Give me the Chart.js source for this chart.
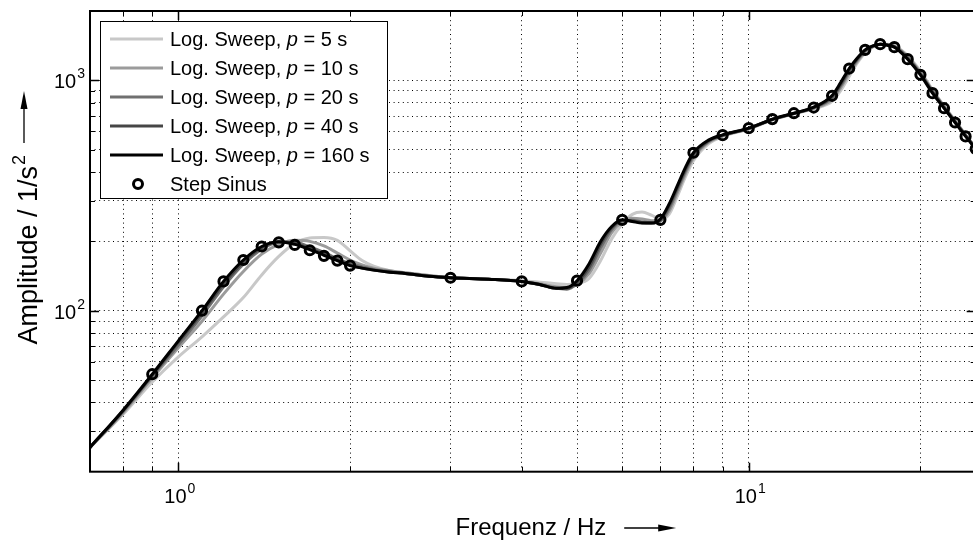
<!DOCTYPE html>
<html>
<head>
<meta charset="utf-8">
<script src="https://cdn.jsdelivr.net/npm/chart.js@4.4.1/dist/chart.umd.min.js"></script>
<style>
  html, body { margin: 0; padding: 0; background: #fff; overflow: hidden; }
  #wrap { width: 990px; height: 542px; }
</style>
</head>
<body>
<div id="wrap"><canvas id="ampChart" width="990" height="542"></canvas></div>
<script>
// frequency grid of the sweep curves (Hz)
const sweepFreq = [0.7, 0.8, 0.9, 1.0, 1.1, 1.2, 1.3, 1.4, 1.5, 1.6, 1.7, 1.8, 1.9, 2.0, 2.1, 2.2, 2.35, 2.5, 2.75, 3.0,
  3.5, 4.0, 4.3, 4.6, 4.8, 5.0, 5.25, 5.5, 5.75, 6.0, 6.25, 6.5, 6.75, 7.0, 7.25, 7.5, 7.75, 8.0, 8.5, 9,
  10, 11, 12, 13, 14, 14.5, 15, 15.5, 16, 16.5, 17, 17.5, 18, 18.5, 19, 20, 21, 22, 23, 24, 25];

// amplitude (1/s^2) per sweep period
const sweepP5 = [25.5, 35.5, 49, 63, 77, 94, 114, 143, 172, 196, 207, 208, 202, 182, 165, 156, 149, 146, 142, 139,
  137, 135, 133, 131, 130, 131, 138, 165, 205, 238, 262, 268, 260, 250, 262, 315, 383, 448, 530, 571,
  615, 673, 715, 752, 810, 905, 1040, 1190, 1315, 1395, 1430, 1435, 1415, 1355, 1280, 1095, 910, 775, 670, 580, 512];
const sweepP10 = [25.5, 36, 51, 69, 90, 118, 148, 176, 194, 202, 200, 191, 178, 166, 158, 153, 149, 146, 142, 139,
  137, 134, 131, 127, 126, 130, 145, 178, 218, 243, 252, 250, 246, 246, 270, 326, 395, 460, 538, 574,
  617, 675, 717, 757, 825, 930, 1070, 1210, 1330, 1400, 1433, 1430, 1408, 1345, 1265, 1083, 902, 770, 666, 578, 510];
const sweepP20 = [25.5, 36.5, 52, 71, 95, 127, 159, 185, 198, 198, 189, 179, 168, 160, 155, 151, 148, 145, 141, 139,
  137, 134, 130, 125, 124, 131, 150, 188, 225, 246, 247, 243, 241, 246, 278, 336, 405, 470, 543, 576,
  618, 676, 718, 760, 840, 950, 1095, 1228, 1342, 1405, 1435, 1426, 1402, 1336, 1255, 1073, 895, 766, 663, 576, 508];
const sweepP40 = [25.5, 36.8, 52.5, 73, 98, 131, 163, 188, 199, 196, 186, 176, 166, 158, 153, 150, 147, 145, 141, 139,
  137, 134, 130, 125, 125, 133, 155, 195, 229, 247, 245, 241, 240, 248, 285, 344, 413, 478, 547, 578,
  619, 677, 719, 763, 850, 965, 1110, 1240, 1350, 1408, 1436, 1423, 1398, 1328, 1245, 1065, 888, 762, 660, 574, 506];
const sweepP160 = [25.5, 37, 53, 74, 100, 134, 166, 190, 199, 194, 184, 174, 165, 157, 153, 150, 147, 145, 141, 139,
  137, 134, 130, 125, 126, 135, 160, 200, 232, 248, 244, 240, 240, 250, 290, 350, 420, 485, 550, 580,
  620, 678, 720, 765, 860, 980, 1125, 1250, 1356, 1410, 1436, 1420, 1393, 1320, 1236, 1057, 880, 757, 656, 571, 504];
const sweepPeriods = [5, 10, 20, 40, 160];

// step sine measurement
const stepFreq = [0.9, 1.1, 1.2, 1.3, 1.4, 1.5, 1.6, 1.7, 1.8, 1.9, 2.0, 3, 4, 5, 6, 7, 8, 9,
  10, 11, 12, 13, 14, 15, 16, 17, 18, 19, 20, 21, 22, 23, 24, 25];
const stepAmp = [53, 100, 134, 166, 190, 198, 193, 183, 173, 165, 157, 139, 134, 135, 248, 248, 485, 578,
  620, 679, 720, 762, 857, 1125, 1356, 1436, 1393, 1236, 1057, 880, 757, 656, 571, 504];

// axes
const xGrid = [0.8, 0.9, 1, 2, 3, 4, 5, 6, 7, 8, 9, 10, 20];
const yGrid = [30, 40, 50, 60, 70, 80, 90, 100, 200, 300, 400, 500, 600, 700, 800, 900, 1000];
const xTickValues = [1, 10];
const xTickExps = ["0", "1"];
const yTickValues = [100, 1000];
const yTickExps = ["2", "3"];

const FONT = '"Liberation Sans", Arial, Helvetica, sans-serif';
const sweepColors = ["#c8c8c8", "#9b9b9b", "#707070", "#464646", "#000000"];

function drawPow(ctx, base, exp, x, y, align) {
  ctx.font = `20px ${FONT}`;
  const wb = ctx.measureText(base).width;
  ctx.font = `14px ${FONT}`;
  const we = ctx.measureText(exp).width;
  const x0 = align === "center" ? x - (wb + we) / 2 : x - wb - we - 1;
  ctx.textAlign = "left";
  ctx.textBaseline = "alphabetic";
  ctx.font = `20px ${FONT}`;
  ctx.fillText(base, x0, y);
  ctx.font = `14px ${FONT}`;
  ctx.fillText(exp, x0 + wb + 1, y - 10);
}

function arrowHead(ctx, tipX, tipY, dx, dy) {
  // dx,dy: unit direction of the arrow
  const len = 18, half = 3.5;
  const bx = tipX - dx * len, by = tipY - dy * len;
  ctx.beginPath();
  ctx.moveTo(tipX, tipY);
  ctx.lineTo(bx - dy * half, by + dx * half);
  ctx.lineTo(bx + dy * half, by - dx * half);
  ctx.closePath();
  ctx.fill();
}

const axesDecor = {
  id: "axesDecor",
  afterDraw(chart) {
    const { ctx, chartArea: a, scales } = chart;
    const x = scales.x, y = scales.y;
    ctx.save();
    ctx.strokeStyle = "#000";
    ctx.fillStyle = "#000";

    // inward ticks on all four sides
    xGrid.forEach((v) => {
      const major = xTickValues.includes(v);
      const px = Math.round(x.getPixelForValue(v)) + 0.5;
      const len = major ? 9 : 5;
      ctx.lineWidth = major ? 1.5 : 1;
      ctx.beginPath();
      ctx.moveTo(px, a.bottom); ctx.lineTo(px, a.bottom - len);
      ctx.moveTo(px, a.top); ctx.lineTo(px, a.top + len);
      ctx.stroke();
    });
    yGrid.forEach((v) => {
      const major = yTickValues.includes(v);
      const py = Math.round(y.getPixelForValue(v)) + 0.5;
      const len = major ? 9 : 5;
      ctx.lineWidth = major ? 1.5 : 1;
      ctx.beginPath();
      ctx.moveTo(a.left, py); ctx.lineTo(a.left + len, py);
      ctx.moveTo(a.right, py); ctx.lineTo(a.right - len, py);
      ctx.stroke();
    });

    // frame
    ctx.lineWidth = 2;
    ctx.strokeRect(a.left, a.top, a.right - a.left, a.bottom - a.top);

    // tick labels
    xTickValues.forEach((v, i) => {
      drawPow(ctx, "10", xTickExps[i], x.getPixelForValue(v) + 1, a.bottom + 31, "center");
    });
    yTickValues.forEach((v, i) => {
      drawPow(ctx, "10", yTickExps[i], a.left - 5, y.getPixelForValue(v) + 8, "right");
    });

    // x title + arrow
    ctx.font = `24px ${FONT}`;
    ctx.textAlign = "center";
    ctx.textBaseline = "alphabetic";
    const xt = "Frequenz / Hz";
    const xc = (a.left + a.right) / 2 - 2;
    ctx.fillText(xt, xc, 535);
    const xw = ctx.measureText(xt).width;
    const ax0 = xc + xw / 2 + 18;
    ctx.lineWidth = 1.3;
    ctx.beginPath();
    ctx.moveTo(ax0, 528); ctx.lineTo(ax0 + 40, 528);
    ctx.stroke();
    arrowHead(ctx, ax0 + 52, 528, 1, 0);

    // y title + arrow (rotated, text ends just below the arrow)
    ctx.save();
    ctx.translate(37, 0);
    ctx.rotate(-Math.PI / 2);
    ctx.font = `27px ${FONT}`;
    const yt = "Amplitude / 1/s";
    const yw = ctx.measureText(yt).width;
    ctx.font = `18px ${FONT}`;
    const ew = ctx.measureText("2").width;
    const textEnd = -166;
    const start = textEnd - yw;
    ctx.textAlign = "left";
    ctx.font = `27px ${FONT}`;
    ctx.fillText(yt, start, 0);
    ctx.font = `18px ${FONT}`;
    ctx.fillText("2", textEnd + 1, -12);
    const ay0 = textEnd + ew + 13;
    ctx.lineWidth = 1.3;
    ctx.beginPath();
    ctx.moveTo(ay0, -13); ctx.lineTo(ay0 + 40, -13);
    ctx.stroke();
    arrowHead(ctx, ay0 + 52, -13, 1, 0);
    ctx.restore();

    // legend box
    const lx = 100, ly = 21, lw = 287, lh = 177;
    ctx.fillStyle = "#fff";
    ctx.fillRect(lx, ly, lw, lh);
    ctx.lineWidth = 1;
    ctx.strokeStyle = "#000";
    ctx.strokeRect(lx + 0.5, ly + 0.5, lw, lh);
    const rowY = (i) => ly + 18 + i * 29;
    chart.data.datasets.forEach((ds, i) => {
      const cy = rowY(i);
      if (ds.showLine === false) {
        ctx.beginPath();
        ctx.lineWidth = 3;
        ctx.strokeStyle = "#000";
        ctx.arc(138, cy, 4.5, 0, Math.PI * 2);
        ctx.stroke();
      } else {
        ctx.beginPath();
        ctx.lineWidth = 3;
        ctx.strokeStyle = ds.borderColor;
        ctx.moveTo(110, cy); ctx.lineTo(163, cy);
        ctx.stroke();
      }
      ctx.fillStyle = "#000";
      ctx.textAlign = "left";
      ctx.textBaseline = "middle";
      let tx = 170;
      const parts = ds.legendParts || [[ds.label, ""]];
      parts.forEach(([txt, style]) => {
        ctx.font = `${style}20px ${FONT}`;
        ctx.fillText(txt, tx, cy + 1);
        tx += ctx.measureText(txt).width;
      });
    });
    ctx.restore();
  },
};

const sweepSeries = [sweepP5, sweepP10, sweepP20, sweepP40, sweepP160];
const datasets = sweepSeries.map((vals, i) => ({
  label: `Log. Sweep, p = ${sweepPeriods[i]} s`,
  legendParts: [["Log. Sweep, ", ""], ["p", "italic "], [` = ${sweepPeriods[i]} s`, ""]],
  data: sweepFreq.map((f, k) => ({ x: f, y: vals[k] })),
  borderColor: sweepColors[i],
  borderWidth: 3,
  pointRadius: 0,
  fill: false,
  cubicInterpolationMode: "monotone",
  order: sweepSeries.length - i,
}));
datasets.push({
  label: "Step Sinus",
  data: stepFreq.map((f, k) => ({ x: f, y: stepAmp[k] })),
  showLine: false,
  pointRadius: 4.6,
  pointBorderWidth: 3,
  pointBorderColor: "#000",
  pointBackgroundColor: "rgba(0,0,0,0)",
  order: 0,
});

function logAxis(min, max, grid) {
  return {
    type: "logarithmic",
    min,
    max,
    afterBuildTicks: (scale) => {
      scale.ticks = grid.map((v) => ({ value: v }));
    },
    ticks: { display: false },
    grid: { color: "#000", lineWidth: 1, drawTicks: false },
    border: { display: false, dash: [1, 3.6] },
  };
}

new Chart(document.getElementById("ampChart").getContext("2d"), {
  type: "line",
  data: { datasets },
  options: {
    responsive: false,
    animation: false,
    devicePixelRatio: 1,
    layout: { padding: { left: 90, top: 11, right: 14.3, bottom: 70.3 } },
    plugins: { legend: { display: false }, tooltip: { enabled: false } },
    scales: {
      x: logAxis(0.7, 25, xGrid),
      y: logAxis(20, 2000, yGrid),
    },
  },
  plugins: [axesDecor],
});
</script>
</body>
</html>
